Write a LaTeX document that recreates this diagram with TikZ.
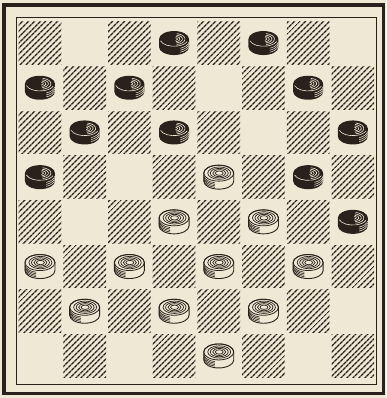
\documentclass[tikz,border=0pt]{standalone}
\usepackage{tikz}
\usetikzlibrary{patterns.meta}

\definecolor{paper}{RGB}{239,232,212}
\definecolor{ink}{RGB}{43,33,28}
\newcommand{\sq}{44.7}

\tikzset{
  darksq/.style={pattern={Lines[angle=45,distance=4pt,line width=1.45pt]}, pattern color=ink},
  blackpiece/.pic={
    \fill[ink] (-15,-4) -- (-15,4) arc[start angle=180,end angle=0,x radius=15,y radius=8]
      -- (15,-4) arc[start angle=0,end angle=-180,x radius=15,y radius=8] -- cycle;
    \draw[paper,line width=.6pt] ([shift={(0,-4)}]165:14 and 7.2) arc[start angle=165,end angle=20,x radius=14,y radius=7.2];
    \foreach \rx/\ry in {10/5.5,7.5/4,5/2.7,2.5/1.4}
      \draw[paper,line width=.6pt] ([shift={(1,-4)}]-80:{\rx} and {\ry}) arc[start angle=-80,end angle=80,x radius=\rx,y radius=\ry];
    \foreach \d in {2,4,6}
      \draw[paper,line width=.5pt] ([shift={(0,{-4+\d})}]65:15 and 8) arc[start angle=65,end angle=8,x radius=15,y radius=8];
  },
  whitepiece/.pic={
    \filldraw[fill=paper,draw=ink,line width=.9pt] (-15,-4) -- (-15,4) arc[start angle=180,end angle=0,x radius=15,y radius=8]
      -- (15,-4) arc[start angle=0,end angle=-180,x radius=15,y radius=8] -- cycle;
    \draw[ink,line width=.8pt] (0,-4) ellipse[x radius=15,y radius=8];
    \foreach \rx/\ry in {11.5/6.2,9/4.8,6.5/3.5,4/2.2}
      \draw[ink,line width=.7pt] (0.5,-4) ellipse[x radius=\rx,y radius=\ry];
    \foreach \d in {2,3.5,5,6.5}
      \draw[ink,line width=.6pt] ([shift={(0,{-4+\d})}]178:15 and 8) arc[start angle=178,end angle=105,x radius=15,y radius=8];
  },
}

\begin{document}
\begin{tikzpicture}[x=1pt,y=-1pt]
  \fill[paper] (0,0) rectangle (386,398);
  \useasboundingbox (0,0) rectangle (386,398);

  % frame
  \draw[ink,line width=3.5pt] (3.8,4.8) rectangle (383.5,393.5);
  \draw[ink,line width=1.2pt] (16.5,17.2) rectangle (376.8,384.5);

  % dark squares
  \foreach \r in {1,...,8}
    \foreach \c in {1,...,8} {
      \pgfmathtruncatemacro{\odd}{mod(\r+\c,2)}
      \ifnum\odd=0
        \fill[darksq] ({17.6+\sq*(\c-1)+1},{20.7+\sq*(\r-1)+1}) rectangle ++({\sq-2},{\sq-2});
      \fi
    }

  % men
  \foreach \r/\c in {1/4,1/6,2/1,2/3,2/7,3/2,3/4,3/8,4/1,4/7,5/8}
    \pic at ({17.6+\sq*(\c-0.5)},{20.7+\sq*(\r-0.5)}) {blackpiece};
  \foreach \r/\c in {4/5,5/4,5/6,6/1,6/3,6/5,6/7,7/2,7/4,7/6,8/5}
    \pic at ({17.6+\sq*(\c-0.5)},{20.7+\sq*(\r-0.5)}) {whitepiece};
\end{tikzpicture}
\end{document}
